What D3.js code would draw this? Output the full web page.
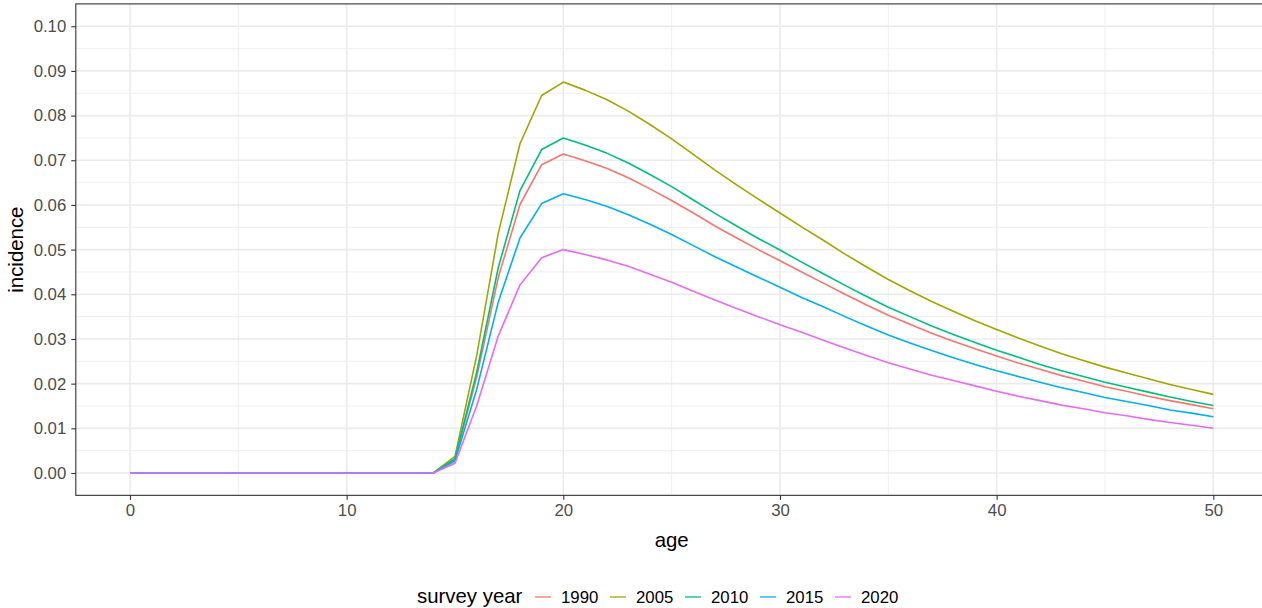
<!DOCTYPE html>
<html>
<head>
<meta charset="utf-8">
<script src="https://cdn.jsdelivr.net/npm/d3@7"></script>
<style>
  html, body { margin: 0; padding: 0; background: #fff; }
  svg { display: block; font-family: "Liberation Sans", Arial, Helvetica, sans-serif; }
</style>
</head>
<body>
<svg id="chart" width="1262" height="608"></svg>
<script>
// ---- data ----
const ages = d3.range(0, 51);
const years = ["1990", "2005", "2010", "2015", "2020"];
const zeros = [0,0,0,0,0,0,0,0,0,0,0,0,0,0,0]; // ages 0..14
const inc1990 = zeros.concat([0.0030,0.0214,0.0438,0.0601,0.0690,0.0714,0.0699,0.0682,0.0661,0.0636,0.0610,0.0582,0.0553,0.0526,0.0500,0.0475,0.0450,0.0425,0.0400,0.0376,0.0353,0.0333,0.0313,0.0295,0.0278,0.0262,0.0246,0.0232,0.0218,0.0206,0.0193,0.0183,0.0172,0.0162,0.0153,0.0144]);
const inc2005 = zeros.concat([0.0037,0.0262,0.0537,0.0737,0.0845,0.0875,0.0857,0.0836,0.0810,0.0780,0.0748,0.0713,0.0678,0.0645,0.0613,0.0582,0.0551,0.0521,0.0490,0.0461,0.0433,0.0408,0.0384,0.0362,0.0341,0.0321,0.0302,0.0284,0.0267,0.0252,0.0237,0.0224,0.0211,0.0198,0.0187,0.0176]);
const inc2010 = zeros.concat([0.0032,0.0225,0.0460,0.0632,0.0724,0.0750,0.0734,0.0716,0.0694,0.0668,0.0641,0.0611,0.0581,0.0553,0.0525,0.0499,0.0472,0.0446,0.0420,0.0395,0.0371,0.0350,0.0329,0.0310,0.0292,0.0275,0.0259,0.0243,0.0229,0.0216,0.0203,0.0192,0.0181,0.0170,0.0160,0.0151]);
const inc2015 = zeros.concat([0.0027,0.0187,0.0383,0.0526,0.0603,0.0625,0.0612,0.0597,0.0578,0.0557,0.0534,0.0509,0.0484,0.0461,0.0438,0.0416,0.0393,0.0372,0.0350,0.0329,0.0309,0.0291,0.0274,0.0258,0.0243,0.0229,0.0216,0.0203,0.0191,0.0180,0.0169,0.0160,0.0151,0.0141,0.0134,0.0126]);
const inc2020 = zeros.concat([0.0022,0.0150,0.0307,0.0421,0.0482,0.0500,0.0489,0.0477,0.0463,0.0445,0.0427,0.0407,0.0387,0.0368,0.0350,0.0332,0.0315,0.0297,0.0280,0.0263,0.0247,0.0233,0.0219,0.0207,0.0195,0.0183,0.0172,0.0162,0.0152,0.0144,0.0135,0.0128,0.0120,0.0113,0.0107,0.0100]);
const seriesValues = [inc1990, inc2005, inc2010, inc2015, inc2020];
const colors = ["#F8766D", "#A3A500", "#00BF7D", "#00B0F6", "#E76BF3"];
const xTicks = [0, 10, 20, 30, 40, 50];
const xMinor = [5, 15, 25, 35, 45];
const yTicks = [0, 0.01, 0.02, 0.03, 0.04, 0.05, 0.06, 0.07, 0.08, 0.09, 0.10];
const yMinor = [0.005, 0.015, 0.025, 0.035, 0.045, 0.055, 0.065, 0.075, 0.085, 0.095];

// ---- layout ----
const svg = d3.select("#chart");
const L = 75.8, R = 1267.5, T = 3.9, B = 495.34;
const x = d3.scaleLinear().domain([-2.5, 52.5]).range([L, R]);
const y = d3.scaleLinear().domain([-0.005, 0.105]).range([B, T]);
const tickFont = 16.8, titleFont = 20.4;

const panel = svg.append("g");
panel.append("rect").attr("x", L).attr("y", T).attr("width", R - L).attr("height", B - T).attr("fill", "#fff");

// minor grid
panel.selectAll(".ymin").data(yMinor).join("line")
  .attr("x1", L).attr("x2", R).attr("y1", d => y(d)).attr("y2", d => y(d))
  .attr("stroke", "#EBEBEB").attr("stroke-width", 0.8);
panel.selectAll(".xmin").data(xMinor).join("line")
  .attr("y1", T).attr("y2", B).attr("x1", d => x(d)).attr("x2", d => x(d))
  .attr("stroke", "#EBEBEB").attr("stroke-width", 0.8);
// major grid
panel.selectAll(".ymaj").data(yTicks).join("line")
  .attr("x1", L).attr("x2", R).attr("y1", d => y(d)).attr("y2", d => y(d))
  .attr("stroke", "#EBEBEB").attr("stroke-width", 1.6);
panel.selectAll(".xmaj").data(xTicks).join("line")
  .attr("y1", T).attr("y2", B).attr("x1", d => x(d)).attr("x2", d => x(d))
  .attr("stroke", "#EBEBEB").attr("stroke-width", 1.6);

// lines
const line = d3.line().x((d, i) => x(ages[i])).y(d => y(d));
svg.append("g").selectAll("path").data(seriesValues).join("path")
  .attr("d", d => line(d))
  .attr("fill", "none")
  .attr("stroke", (d, i) => colors[i])
  .attr("stroke-width", 1.6)
  .attr("stroke-linejoin", "round");

// border
svg.append("rect").attr("x", L).attr("y", T).attr("width", R - L).attr("height", B - T)
  .attr("fill", "none").attr("stroke", "#333333").attr("stroke-width", 1.1);

// axes
const xAxis = d3.axisBottom(x).tickValues(xTicks).tickFormat(d3.format("d")).tickSize(4.5).tickPadding(4);
const gx = svg.append("g").attr("transform", `translate(0,${B})`).call(xAxis);
gx.select(".domain").remove();
gx.selectAll(".tick line").attr("stroke", "#333333").attr("stroke-width", 1.1);
gx.selectAll(".tick text").attr("fill", "#4D4D4D").attr("font-size", tickFont).attr("font-family", "Liberation Sans, Arial, sans-serif");

const yAxis = d3.axisLeft(y).tickValues(yTicks).tickFormat(d3.format(".2f")).tickSize(4.5).tickPadding(5);
const gy = svg.append("g").attr("transform", `translate(${L},0)`).call(yAxis);
gy.select(".domain").remove();
gy.selectAll(".tick line").attr("stroke", "#333333").attr("stroke-width", 1.1);
gy.selectAll(".tick text").attr("fill", "#4D4D4D").attr("font-size", tickFont).attr("font-family", "Liberation Sans, Arial, sans-serif");

// axis titles
svg.append("text").attr("x", (L + R) / 2).attr("y", 547).attr("text-anchor", "middle")
  .attr("font-size", titleFont).attr("fill", "#000").text("age");
svg.append("text").attr("transform", `translate(23,${(T + B) / 2}) rotate(-90)`).attr("text-anchor", "middle")
  .attr("font-size", titleFont).attr("fill", "#000").text("incidence");

// legend
const lg = svg.append("g");
lg.append("text").attr("x", 417).attr("y", 603).attr("font-size", titleFont).attr("fill", "#000").text("survey year");
const itemX = [535, 610, 685, 760, 835];
const items = lg.selectAll(".item").data(years).join("g").attr("transform", (d, i) => `translate(${itemX[i]},0)`);
items.append("line").attr("x1", 0).attr("x2", 16).attr("y1", 597).attr("y2", 597)
  .attr("stroke", (d, i) => colors[i]).attr("stroke-width", 1.3);
items.append("text").attr("x", 26).attr("y", 603).attr("font-size", tickFont).attr("fill", "#000").text(d => d);
</script>
</body>
</html>
